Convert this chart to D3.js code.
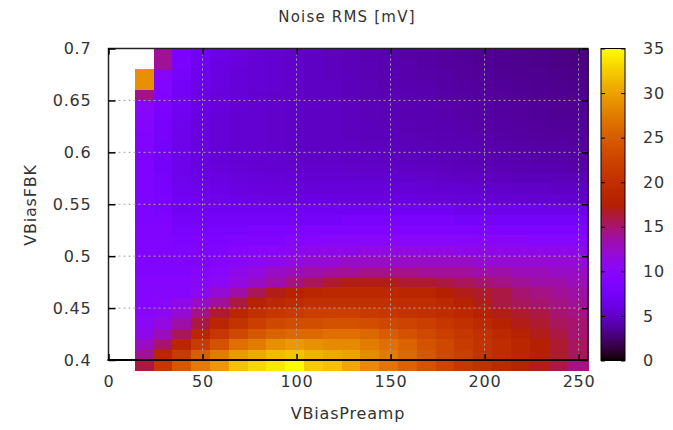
<!DOCTYPE html>
<html>
<head>
<meta charset="utf-8">
<script src="https://cdn.jsdelivr.net/npm/d3@7"></script>
<style>
  html, body { margin: 0; padding: 0; background: #fff; }
  svg text { font-family: "DejaVu Sans", sans-serif; fill: #333; }
</style>
</head>
<body>
<svg id="chart" width="673" height="430"></svg>
<script>
// VBiasPreamp settings (cell centres), one per column
const xValues = [19, 29, 39, 49, 59, 69, 79, 89, 99, 109, 119, 129,
                 139, 149, 159, 169, 179, 189, 199, 209, 219, 229, 239, 249];
// VBiasFBK settings (lower edge of each row), top row first
const yValues = [0.69, 0.68, 0.67, 0.66, 0.65, 0.64, 0.63, 0.62, 0.61, 0.60,
                 0.59, 0.58, 0.57, 0.56, 0.55, 0.54, 0.53, 0.52, 0.51, 0.50,
                 0.49, 0.48, 0.47, 0.46, 0.45, 0.44, 0.43, 0.42, 0.41, 0.40, 0.39];
// Noise RMS in mV, rows follow yValues, columns follow xValues (null = not measured)
const noiseRMS = [
  [null, 14, 8.2, 7.0, 6.2, 5.8, 5.5, 5.3, 5.1, 4.9, 4.7, 4.5, 4.3, 4.2, 4.0, 3.9, 3.8, 3.6, 3.5, 3.4, 3.3, 3.2, 3.1, 3.0],
  [null, 14, 8.0, 6.8, 6.1, 5.8, 5.5, 5.3, 5.1, 4.9, 4.7, 4.5, 4.4, 4.2, 4.1, 3.9, 3.8, 3.7, 3.5, 3.4, 3.3, 3.2, 3.1, 3.0],
  [29, 9.8, 7.6, 6.6, 6.0, 5.7, 5.5, 5.3, 5.1, 4.9, 4.7, 4.6, 4.4, 4.3, 4.1, 4.0, 3.9, 3.7, 3.6, 3.5, 3.4, 3.3, 3.2, 3.1],
  [29, 9.2, 7.4, 6.5, 6.0, 5.7, 5.5, 5.3, 5.1, 4.9, 4.8, 4.6, 4.5, 4.3, 4.2, 4.1, 3.9, 3.8, 3.7, 3.6, 3.5, 3.4, 3.3, 3.2],
  [14.5, 8.8, 7.2, 6.3, 5.9, 5.6, 5.4, 5.2, 5.1, 4.9, 4.8, 4.6, 4.5, 4.4, 4.3, 4.2, 4.0, 3.9, 3.8, 3.7, 3.6, 3.5, 3.4, 3.3],
  [10, 8.3, 7.0, 6.2, 5.8, 5.5, 5.3, 5.2, 5.0, 4.9, 4.8, 4.7, 4.5, 4.4, 4.3, 4.2, 4.1, 4.0, 3.9, 3.8, 3.7, 3.6, 3.5, 3.4],
  [9.6, 8.0, 6.8, 6.1, 5.7, 5.4, 5.3, 5.1, 5.0, 4.9, 4.8, 4.7, 4.5, 4.4, 4.3, 4.2, 4.1, 4.0, 3.9, 3.8, 3.7, 3.6, 3.5, 3.5],
  [9.2, 7.8, 6.6, 6.0, 5.6, 5.4, 5.3, 5.1, 5.0, 4.9, 4.8, 4.7, 4.6, 4.5, 4.4, 4.3, 4.2, 4.1, 4.0, 3.9, 3.8, 3.7, 3.6, 3.6],
  [9.0, 7.6, 6.5, 6.0, 5.6, 5.4, 5.3, 5.1, 5.0, 4.9, 4.8, 4.7, 4.6, 4.6, 4.5, 4.4, 4.3, 4.2, 4.1, 4.0, 3.9, 3.8, 3.8, 3.7],
  [8.8, 7.5, 6.5, 6.0, 5.6, 5.4, 5.3, 5.2, 5.0, 4.9, 4.9, 4.8, 4.7, 4.7, 4.6, 4.5, 4.4, 4.3, 4.2, 4.1, 4.0, 3.9, 3.9, 3.8],
  [8.7, 7.5, 6.5, 6.0, 5.7, 5.5, 5.4, 5.3, 5.1, 5.0, 5.0, 4.9, 4.8, 4.8, 4.7, 4.6, 4.5, 4.4, 4.3, 4.2, 4.1, 4.0, 4.0, 3.9],
  [8.6, 7.5, 6.5, 6.1, 5.8, 5.6, 5.5, 5.4, 5.3, 5.2, 5.2, 5.1, 5.0, 5.0, 4.9, 4.8, 4.7, 4.6, 4.5, 4.4, 4.3, 4.2, 4.2, 4.1],
  [8.5, 7.6, 6.6, 6.3, 6.0, 5.8, 5.7, 5.6, 5.5, 5.4, 5.4, 5.4, 5.3, 5.3, 5.2, 5.1, 5.0, 4.9, 4.8, 4.7, 4.6, 4.6, 4.5, 4.5],
  [8.5, 7.8, 6.8, 6.5, 6.3, 6.0, 5.9, 5.8, 5.8, 5.7, 5.7, 5.7, 5.7, 5.6, 5.6, 5.5, 5.4, 5.3, 5.2, 5.1, 5.0, 5.0, 4.9, 4.9],
  [8.5, 8.0, 7.0, 6.8, 6.5, 6.3, 6.2, 6.1, 6.0, 6.0, 6.0, 6.0, 6.0, 6.0, 6.0, 5.9, 5.8, 5.7, 5.6, 5.5, 5.4, 5.3, 5.3, 5.2],
  [8.5, 8.0, 7.0, 7.0, 7.0, 7.0, 7.0, 7.0, 7.0, 7.0, 7.0, 7.0, 7.0, 7.0, 7.0, 7.0, 7.0, 6.5, 6.5, 6.5, 6.5, 6.5, 6.5, 6.5],
  [8.5, 8.5, 7.5, 7.5, 7.5, 7.5, 7.5, 7.5, 7.5, 7.5, 7.5, 8.0, 8.0, 8.0, 8.0, 8.0, 8.0, 7.5, 7.5, 7.5, 7.5, 7.5, 7.5, 7.5],
  [9.0, 9.0, 8.0, 8.0, 8.0, 8.0, 8.5, 8.5, 8.5, 9.0, 9.0, 9.0, 9.0, 9.0, 9.0, 9.0, 9.0, 9.0, 8.5, 8.5, 8.5, 8.5, 8.5, 8.5],
  [9.0, 9.0, 8.5, 8.5, 8.5, 9.0, 9.0, 9.0, 9.5, 9.5, 10, 10, 10, 10, 10, 10, 10, 10, 10, 10, 10, 9.5, 9.5, 9.5],
  [9.0, 9.0, 9.0, 9.0, 9.0, 9.5, 10, 10, 10.5, 11, 11, 11, 11.5, 11.5, 11.5, 11.5, 11.5, 11, 11, 11, 11, 11, 11, 11],
  [9.0, 9.0, 9.0, 9.0, 9.5, 10, 10.5, 11, 11.5, 12, 12, 12.5, 12.5, 12.5, 12.5, 12.5, 12.5, 12.5, 12, 12, 12, 12, 12, 12],
  [9.0, 9.0, 9.0, 9.5, 10, 11, 11.5, 12.5, 13, 13.5, 14, 14, 14.5, 14.5, 14.5, 14, 14, 14, 13.5, 13.5, 13, 13, 12.5, 12.5],
  [9.5, 9.5, 9.5, 10, 10.5, 11.5, 12.5, 13.5, 14.5, 15.5, 16.5, 17, 17, 17, 16.5, 16.5, 16, 15.5, 15, 14.5, 14, 13.5, 13.5, 13],
  [9.5, 9.5, 9.5, 10.5, 12, 13.5, 15.5, 17, 18, 18.5, 19, 19, 19, 19, 18.5, 18.5, 17.5, 17, 16.5, 16, 15, 14.5, 14, 13.5],
  [9.5, 10, 11, 12.5, 14, 16, 18, 19, 19.5, 20, 20, 20, 20, 20, 19.5, 19.5, 19, 18, 17, 16, 15.5, 15, 14.5, 14],
  [10, 10.5, 12, 14.5, 16.5, 18.5, 20, 21, 21.5, 22, 22, 22, 21.5, 21, 20.5, 20, 19.5, 19, 18, 17, 16.5, 16, 15, 14.5],
  [10.5, 11.5, 13.5, 16, 18.5, 20.5, 22, 23, 23.5, 23.5, 24, 24, 23.5, 23, 22.5, 22, 21, 20, 19, 18, 17, 16.5, 15.5, 15],
  [11, 13, 15.5, 18.5, 21, 23, 24.5, 25.5, 26, 26, 26.5, 26.5, 26, 25, 24, 23, 22, 21, 20, 19, 18, 17, 16, 15],
  [12.5, 15, 18.5, 21.5, 24, 26.5, 27.5, 29, 29.5, 29, 28.5, 28.5, 27.5, 26.5, 25.5, 24, 23, 21.5, 20.5, 19.5, 18.5, 17.5, 16.5, 15.5],
  [14, 18.5, 21.5, 25, 27.5, 29.5, 30.5, 31.5, 32, 31, 30.5, 30, 28.5, 27.5, 26, 24.5, 23, 22, 20.5, 19.5, 18.5, 17.5, 16.5, 15.5],
  [16, 21, 24.5, 27.5, 29.5, 32, 33, 34, 35, 32.5, 32, 30.5, 28.5, 27, 25.5, 24, 22.5, 21, 20, 19, 18, 17, 16, 14.5]
];
const xTicks = [0, 50, 100, 150, 200, 250];
const yTicks = [0.4, 0.45, 0.5, 0.55, 0.6, 0.65, 0.7];
const cbTicks = [0, 5, 10, 15, 20, 25, 30, 35];
const titleText = "Noise RMS [mV]";
const xLabel = "VBiasPreamp";
const yLabel = "VBiasFBK";

const svg = d3.select("#chart");
const plot = { left: 108.5, right: 588, top: 48.5, bottom: 360 };
const bar = { left: 601, right: 625, top: 48.5, bottom: 360.5 };

const x = d3.scaleLinear().domain([0, 255]).range([plot.left, plot.right]);
const y = d3.scaleLinear().domain([0.4, 0.7]).range([plot.bottom, plot.top]);

// gnuplot-style "hot" palette: rgbformulae 7,5,15
function palette(t) {
  t = Math.max(0, Math.min(1, t));
  const r = Math.sqrt(t), g = t * t * t, b = Math.max(0, Math.sin(2 * Math.PI * t));
  return d3.rgb(r * 255, g * 255, b * 255).toString();
}
const cbDomain = [0, 35];
const color = v => palette((v - cbDomain[0]) / (cbDomain[1] - cbDomain[0]));

// heat map cells
const xStep = xValues[1] - xValues[0];
const yStep = Math.abs(yValues[0] - yValues[1]);
const cells = [];
yValues.forEach((yv, i) => {
  xValues.forEach((xv, j) => {
    const v = noiseRMS[i][j];
    if (v === null) return;
    const x0 = xv - xStep / 2;
    const x1 = j === xValues.length - 1 ? x.domain()[1] : xv + xStep / 2;
    const y0 = yv, y1 = Math.min(yv + yStep, y.domain()[1]);
    cells.push({ x0, x1, y0, y1, v });
  });
});
svg.append("g").attr("shape-rendering", "crispEdges")
  .selectAll("rect").data(cells).join("rect")
  .attr("x", d => x(d.x0))
  .attr("y", d => y(d.y1))
  .attr("width", d => x(d.x1) - x(d.x0) + 0.5)
  .attr("height", d => y(d.y0) - y(d.y1) + 0.5)
  .attr("fill", d => color(d.v));

// dotted grid
const grid = svg.append("g").attr("stroke", "#a8a8a8").attr("stroke-width", 1)
  .attr("stroke-dasharray", "2,3");
grid.selectAll("line.gx").data(xTicks.filter(t => t > 0)).join("line")
  .attr("x1", d => x(d)).attr("x2", d => x(d))
  .attr("y1", plot.top).attr("y2", plot.bottom);
grid.selectAll("line.gy").data(yTicks.filter(t => t > 0.4 && t < 0.7)).join("line")
  .attr("x1", plot.left).attr("x2", plot.right)
  .attr("y1", d => y(d)).attr("y2", d => y(d));

// frame
svg.append("rect")
  .attr("x", plot.left).attr("y", plot.top)
  .attr("width", plot.right - plot.left).attr("height", plot.bottom - plot.top)
  .attr("fill", "none").attr("stroke", "#222").attr("stroke-width", 1.5);
svg.append("line").attr("x1", plot.left - 1).attr("x2", plot.right)
  .attr("y1", plot.bottom).attr("y2", plot.bottom)
  .attr("stroke", "#000").attr("stroke-width", 2);

// axes with inward ticks, mirrored on top/right
const fontSize = 16;
const spacing = 0.8;
const xAxis = svg.append("g").attr("transform", `translate(0,${plot.bottom})`)
  .call(d3.axisBottom(x).tickValues(xTicks).tickSize(-6).tickPadding(16).tickFormat(d3.format("d")));
const xTop = svg.append("g").attr("transform", `translate(0,${plot.top})`)
  .call(d3.axisTop(x).tickValues(xTicks).tickSize(-6).tickFormat(""));
const yAxis = svg.append("g").attr("transform", `translate(${plot.left},0)`)
  .call(d3.axisLeft(y).tickValues(yTicks).tickSize(-7).tickPadding(17).tickFormat(d => String(+d.toFixed(2))));
const yRight = svg.append("g").attr("transform", `translate(${plot.right},0)`)
  .call(d3.axisRight(y).tickValues(yTicks).tickSize(-6).tickFormat(""));
[xAxis, xTop, yAxis, yRight].forEach(g => {
  g.select(".domain").remove();
  g.selectAll(".tick line").attr("stroke", "#000").attr("stroke-width", 1.5);
  g.selectAll("text").attr("font-size", fontSize).attr("fill", "#333")
    .attr("letter-spacing", spacing)
    .attr("font-family", "DejaVu Sans, sans-serif");
});

// colour box
const cbScale = d3.scaleLinear().domain(cbDomain).range([bar.bottom, bar.top]);
const defs = svg.append("defs");
const grad = defs.append("linearGradient").attr("id", "cbgrad")
  .attr("x1", 0).attr("y1", 1).attr("x2", 0).attr("y2", 0);
d3.range(0, 1.0001, 0.01).forEach(t => {
  grad.append("stop").attr("offset", t).attr("stop-color", palette(t));
});
svg.append("rect").attr("x", bar.left).attr("y", bar.top)
  .attr("width", bar.right - bar.left).attr("height", bar.bottom - bar.top)
  .attr("fill", "url(#cbgrad)").attr("stroke", "#000").attr("stroke-width", 1);
const cbAxis = svg.append("g").attr("transform", `translate(${bar.right},0)`)
  .call(d3.axisRight(cbScale).tickValues(cbTicks).tickSize(-4).tickPadding(18));
const cbLeft = svg.append("g").attr("transform", `translate(${bar.left},0)`)
  .call(d3.axisLeft(cbScale).tickValues(cbTicks).tickSize(-4).tickFormat(""));
[cbAxis, cbLeft].forEach(g => {
  g.select(".domain").remove();
  g.selectAll(".tick line").attr("stroke", "#000");
  g.selectAll("text").attr("font-size", fontSize).attr("fill", "#333")
    .attr("letter-spacing", spacing)
    .attr("font-family", "DejaVu Sans, sans-serif");
});

// titles
svg.append("text").attr("x", 347).attr("y", 22).attr("text-anchor", "middle")
  .attr("font-size", 15).attr("letter-spacing", 1.2).text(titleText);
svg.append("text").attr("x", 348).attr("y", 419).attr("text-anchor", "middle")
  .attr("font-size", fontSize).attr("letter-spacing", spacing).text(xLabel);
svg.append("text").attr("transform", "translate(36,205) rotate(-90)")
  .attr("text-anchor", "middle").attr("font-size", fontSize)
  .attr("letter-spacing", spacing).text(yLabel);
</script>
</body>
</html>
